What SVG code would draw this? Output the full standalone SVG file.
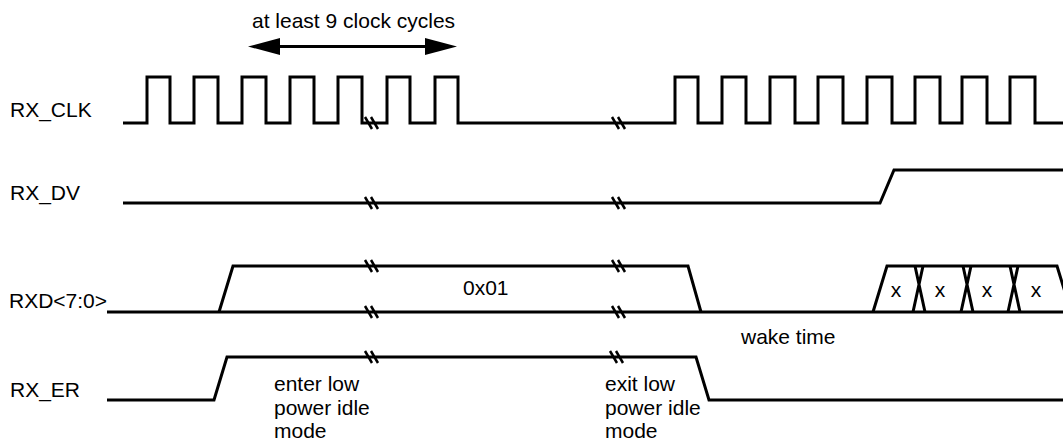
<svg xmlns="http://www.w3.org/2000/svg" xmlns:xlink="http://www.w3.org/1999/xlink" width="1063" height="440" viewBox="0 0 1063 440">
<style>
.sig{fill:none;stroke:#000;stroke-width:3;stroke-linejoin:miter}
.brk{fill:none;stroke:#000;stroke-width:2.5}
.lbl{font-family:"Liberation Sans",Arial,sans-serif;font-size:21px;fill:#000}
.conn{stroke:#000;stroke-width:3;fill:none}
</style>
<defs>
<marker id="ah" viewBox="0 0 32 17" refX="1" refY="8.5" markerWidth="32" markerHeight="17" markerUnits="userSpaceOnUse" orient="auto-start-reverse">
<path d="M0,0 L32,8.5 L0,17 z" fill="#000"/>
</marker>
<g id="brk"><path class="brk" d="M-8,-6 L-1,6 M-2,-6 L5,6"/></g>
</defs>
<rect width="1063" height="440" fill="#fff"/>

<g id="rx_clk">
<text class="lbl" x="10" y="117">RX_CLK</text>
<path class="sig" d="M123,123 H147 V77 H170 V123 H194 V77 H218 V123 H242 V77 H266 V123 H290 V77 H314 V123 H338 V77 H362 V123 H387 V77 H410 V123 H435 V77 H458 V123 L675,123 V77 H698 V123 H722 V77 H746 V123 H770 V77 H795 V123 H818 V77 H843 V123 H867 V77 H892 V123 H915 V77 H940 V123 H962 V77 H987 V123 H1010 V77 H1035 V123 H1063"/>
<use xlink:href="#brk" x="373" y="123"/>
<use xlink:href="#brk" x="620" y="123"/>
</g>

<g id="rx_dv">
<text class="lbl" x="10" y="200">RX_DV</text>
<path class="sig" d="M123,203 H880 L894,170 H1063"/>
<use xlink:href="#brk" x="373" y="203"/>
<use xlink:href="#brk" x="620" y="203"/>
</g>

<g id="rxd">
<text class="lbl" x="9" y="308">RXD&lt;7:0&gt;</text>
<path class="sig" d="M107,312 H1063"/>
<path class="sig" d="M219,312 L233,266 H688 L701,312"/>
<use xlink:href="#brk" x="373" y="266"/>
<use xlink:href="#brk" x="373" y="312"/>
<use xlink:href="#brk" x="620" y="266"/>
<use xlink:href="#brk" x="620" y="312"/>
<text class="lbl" x="463" y="295">0x01</text>
<path class="sig" d="M873,312 L887,266 H1057 L1071,312"/>
<path class="sig" d="M923,266 L913,312 M915,266 L925,312"/>
<path class="sig" d="M971,266 L961,312 M963,266 L973,312"/>
<path class="sig" d="M1018,266 L1008,312 M1010,266 L1020,312"/>
<text class="lbl" x="896" y="297" text-anchor="middle">x</text>
<text class="lbl" x="940" y="297" text-anchor="middle">x</text>
<text class="lbl" x="987" y="297" text-anchor="middle">x</text>
<text class="lbl" x="1036" y="297" text-anchor="middle">x</text>
<text class="lbl" x="741" y="344">wake time</text>
</g>

<g id="rx_er">
<text class="lbl" x="10" y="397">RX_ER</text>
<path class="sig" d="M107,400 H214 L227,357 H696 L709,400 H1063"/>
<use xlink:href="#brk" x="373" y="357"/>
<use xlink:href="#brk" x="618" y="357"/>
<text class="lbl" x="274" y="391">enter low</text>
<text class="lbl" x="274" y="414.5">power idle</text>
<text class="lbl" x="274" y="438">mode</text>
<text class="lbl" x="605" y="391">exit low</text>
<text class="lbl" x="605" y="414.5">power idle</text>
<text class="lbl" x="605" y="438">mode</text>
</g>

<g id="connectors">
<line class="conn" x1="279" y1="46.5" x2="426" y2="46.5" marker-start="url(#ah)" marker-end="url(#ah)"/>
<text class="lbl" x="252" y="28">at least 9 clock cycles</text>
</g>
</svg>
